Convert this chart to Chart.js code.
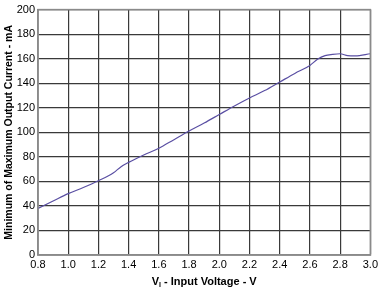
<!DOCTYPE html>
<html>
<head>
<meta charset="utf-8">
<script src="https://cdn.jsdelivr.net/npm/chart.js@4/dist/chart.umd.min.js"></script>
<style>
html,body{margin:0;padding:0;background:#fff;}
#wrap{width:381px;height:290px;position:relative;}
</style>
</head>
<body>
<div id="wrap"><canvas id="c" width="381" height="290"></canvas></div>
<script>
const inputVoltage = [0.8,0.9,1.0,1.1,1.2,1.3,1.35,1.4,1.5,1.6,1.7,1.8,1.9,2.0,2.1,2.2,2.3,2.4,2.5,2.6,2.65,2.7,2.75,2.8,2.85,2.9,3.0];
const outputCurrent = [38,44,50,55,60.5,67,72,75.5,81.5,87,94,101,107.5,114.5,121.5,128,134,141,148,154.5,159.5,162.5,163.5,164,162.5,162.3,164];
const xTicks = [0.8,1.0,1.2,1.4,1.6,1.8,2.0,2.2,2.4,2.6,2.8,3.0];
const yTicks = [0,20,40,60,80,100,120,140,160,180,200];
const yTitle = 'Minimum of Maximum Output Current - mA';
const xTitleParts = ['V', 'I', ' - Input Voltage - V'];

const FONT = '"Liberation Sans", Arial, sans-serif';

const titlePlugin = {
  id: 'customTitles',
  afterDraw(chart) {
    const ctx = chart.ctx;
    const area = chart.chartArea;
    ctx.save();
    ctx.fillStyle = '#000';
    ctx.textBaseline = 'alphabetic';
    ctx.font = 'bold 11px ' + FONT;
    const w1 = ctx.measureText(xTitleParts[0]).width;
    ctx.font = 'bold 7px ' + FONT;
    const w2 = ctx.measureText(xTitleParts[1]).width;
    ctx.font = 'bold 11px ' + FONT;
    const w3 = ctx.measureText(xTitleParts[2]).width;
    const total = w1 + w2 + w3;
    let x = (area.left + area.right) / 2 - total / 2;
    const y = 285;
    ctx.fillText(xTitleParts[0], x, y);
    x += w1;
    ctx.font = 'bold 7px ' + FONT;
    ctx.fillText(xTitleParts[1], x, y + 2);
    x += w2;
    ctx.font = 'bold 11px ' + FONT;
    ctx.fillText(xTitleParts[2], x, y);
    ctx.translate(9, (area.top + area.bottom) / 2);
    ctx.rotate(-Math.PI / 2);
    ctx.textAlign = 'center';
    ctx.textBaseline = 'middle';
    ctx.font = 'bold 10.5px ' + FONT;
    ctx.fillText(yTitle, 0, 0);
    ctx.restore();
  }
};

new Chart(document.getElementById('c'), {
  type: 'line',
  data: {
    datasets: [{
      data: inputVoltage.map((v, i) => ({x: v, y: outputCurrent[i]})),
      borderColor: '#5a4fa3',
      borderWidth: 1.2,
      pointRadius: 0,
      cubicInterpolationMode: 'monotone',
      fill: false
    }]
  },
  options: {
    responsive: false,
    animation: false,
    layout: { padding: { top: 6, right: 10, left: 0, bottom: 0 } },
    plugins: { legend: { display: false }, tooltip: { enabled: false } },
    scales: {
      x: {
        type: 'linear',
        min: 0.8, max: 3.0,
        afterBuildTicks(scale) { scale.ticks = xTicks.map(v => ({value: v})); },
        afterFit(scale) { scale.height = 35; },
        grid: { color: '#3a3a3a', lineWidth: 1.2, drawTicks: false },
        border: { color: '#8a8a8a', width: 1.5 },
        ticks: {
          color: '#000', padding: 3,
          font: { family: FONT, size: 11 },
          maxRotation: 0,
          callback: v => Number(v).toFixed(1)
        },
        title: { display: false }
      },
      y: {
        min: 0, max: 200,
        afterBuildTicks(scale) { scale.ticks = yTicks.map(v => ({value: v})); },
        afterFit(scale) { scale.width = 38; },
        grid: { color: '#3a3a3a', lineWidth: 1.2, drawTicks: false },
        border: { color: '#8a8a8a', width: 1.5 },
        ticks: {
          color: '#000', padding: 3,
          font: { family: FONT, size: 11 },
          callback: v => String(v)
        },
        title: { display: false }
      }
    }
  },
  plugins: [titlePlugin, {
    id: 'frame',
    afterDatasetsDraw(chart) {
      const {ctx, chartArea: a} = chart;
      ctx.save();
      ctx.strokeStyle = '#8a8a8a';
      ctx.lineWidth = 1.5;
      ctx.strokeRect(a.left, a.top, a.right - a.left, a.bottom - a.top);
      ctx.restore();
    }
  }]
});
</script>
</body>
</html>
